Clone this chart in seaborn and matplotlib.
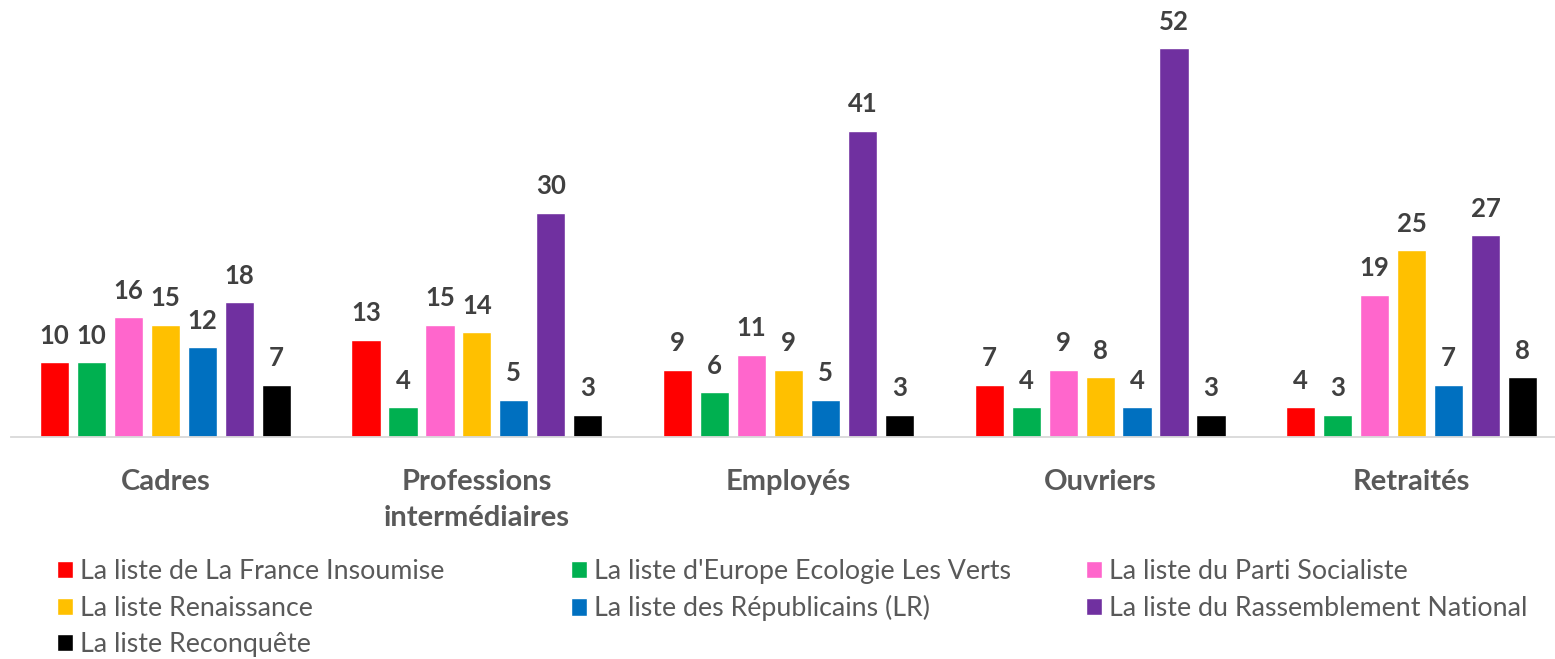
import matplotlib
matplotlib.use("Agg")
import matplotlib.pyplot as plt
import seaborn as sns
import pandas as pd

categories = ["Cadres", "Professions\nintermédiaires", "Employés", "Ouvriers", "Retraités"]
series_names = [
    "La liste de La France Insoumise",
    "La liste d'Europe Ecologie Les Verts",
    "La liste du Parti Socialiste",
    "La liste Renaissance",
    "La liste des Républicains (LR)",
    "La liste du Rassemblement National",
    "La liste Reconquête",
]
lfi = [10, 13, 9, 7, 4]
eelv = [10, 4, 6, 4, 3]
ps = [16, 15, 11, 9, 19]
renaissance = [15, 14, 9, 8, 25]
lr = [12, 5, 5, 4, 7]
rn = [18, 30, 41, 52, 27]
reconquete = [7, 3, 3, 3, 8]
colors = ["#FF0000", "#00B050", "#FF66CC", "#FFC000", "#0070C0", "#7030A0", "#000000"]

series_values = [lfi, eelv, ps, renaissance, lr, rn, reconquete]
rows = []
for name, vals in zip(series_names, series_values):
    for cat, v in zip(categories, vals):
        rows.append({"cat": cat, "serie": name, "val": v})
df = pd.DataFrame(rows)

sns.set_theme(style="white")
plt.rcParams['font.family'] = ['Lato', 'DejaVu Sans']

W, H = 1555, 659
fig = plt.figure(figsize=(W / 100, H / 100), dpi=100)
ax = fig.add_axes([11 / W, (H - 437) / H, 1544 / W, 411 / H])

sns.barplot(data=df, x="cat", y="val", hue="serie", order=categories,
            hue_order=series_names, palette=colors, width=0.83, gap=0.21,
            ax=ax, legend=True, saturation=1)

ax.set_ylim(0, 55)
ax.set_xlim(-0.5 + 1.5 / 311.25, 4.5 - 12.5 / 311.25)
ax.set_xlabel("")
ax.set_ylabel("")
ax.set_yticks([])
for s in ["top", "left", "right"]:
    ax.spines[s].set_visible(False)
ax.spines["bottom"].set_color("#D9D9D9")
ax.spines["bottom"].set_linewidth(1.3)
ax.tick_params(axis="x", length=0, pad=23)
for lbl in ax.get_xticklabels():
    lbl.set_fontsize(21)
    lbl.set_fontweight("bold")
    lbl.set_color("#595959")
    lbl.set_verticalalignment("top")
    lbl.set_linespacing(1.46)

for cont in ax.containers:
    ax.bar_label(cont, fmt="%d", padding=10.5, fontsize=18.5, fontweight="bold", color="#404040")

handles, labels = ax.get_legend_handles_labels()
ax.get_legend().remove()

col_specs = [([0, 3, 6], 57, 608), ([1, 4], 571, 590), ([2, 5], 1086, 590)]
for idxs, x0, yc in col_specs:
    leg = fig.legend([handles[i] for i in idxs], [labels[i] for i in idxs],
                     ncol=1, loc="center left",
                     bbox_to_anchor=(x0 / W, 1 - yc / H), frameon=False,
                     fontsize=19.3, handlelength=0.6, handleheight=0.6,
                     handletextpad=0.27, labelspacing=0.44,
                     borderaxespad=0, borderpad=0)
    for t in leg.get_texts():
        t.set_color("#595959")

fig.savefig("out.png", dpi=100)
